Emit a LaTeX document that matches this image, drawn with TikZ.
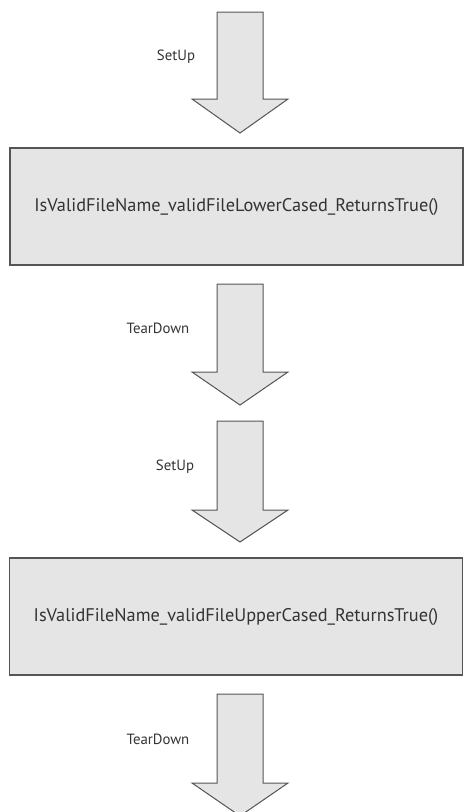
\documentclass[tikz,border=0pt]{standalone}
\usepackage{fontspec}
\setmainfont{PT Sans}
\usepackage{tikz}
\usetikzlibrary{positioning}

\definecolor{boxfill}{HTML}{E5E5E5}
\definecolor{boxline}{HTML}{555555}
\definecolor{inkgray}{HTML}{333333}

\tikzset{
  testbox/.style={draw=boxline, fill=boxfill, line width=1.3pt, text=inkgray,
    minimum width=453pt, minimum height=117pt, inner sep=0pt, font=\fontsize{18.3}{20}\selectfont},
  steplabel/.style={text=inkgray, inner sep=0pt, font=\fontsize{14.8}{17}\selectfont},
  blockarrow/.style={draw=boxline, fill=boxfill, line width=1pt, line join=miter}
}

% block arrow pointing down: top of shaft (#1), start of head (#2), tip (#3)
\def\stepdownarrow(#1,#2,#3){\draw[blockarrow] (217,#1) -- (263,#1) -- (263,#2) -- (288,#2) -- (240,#3) -- (192,#2) -- (217,#2) -- cycle;}

\begin{document}
\begin{tikzpicture}[x=1pt,y=-1pt]
		%%%%% START %%%%%
		\useasboundingbox (0,0) rectangle (467,812);
		
		\stepdownarrow(12,99,133);
		\node[steplabel] (setupA) at (176,57) {SetUp};
		
		\node[testbox] (lowertest) at (236.5,206.5) {IsValidFileName\_validFileLowerCased\_ReturnsTrue()};
		
		\stepdownarrow(284,372,405);
		\node[steplabel] (teardownA) at (158,328) {TearDown};
		
		\stepdownarrow(421,510,542);
		\node[steplabel] (setupB) at (175,467) {SetUp};
		
		\node[testbox] (uppertest) at (236,616.5) {IsValidFileName\_validFileUpperCased\_ReturnsTrue()};
		
		\stepdownarrow(694,783,816);
		\node[steplabel] (teardownB) at (158,739) {TearDown};
		
		%%%%% END %%%%%
	\end{tikzpicture}
\end{document}
